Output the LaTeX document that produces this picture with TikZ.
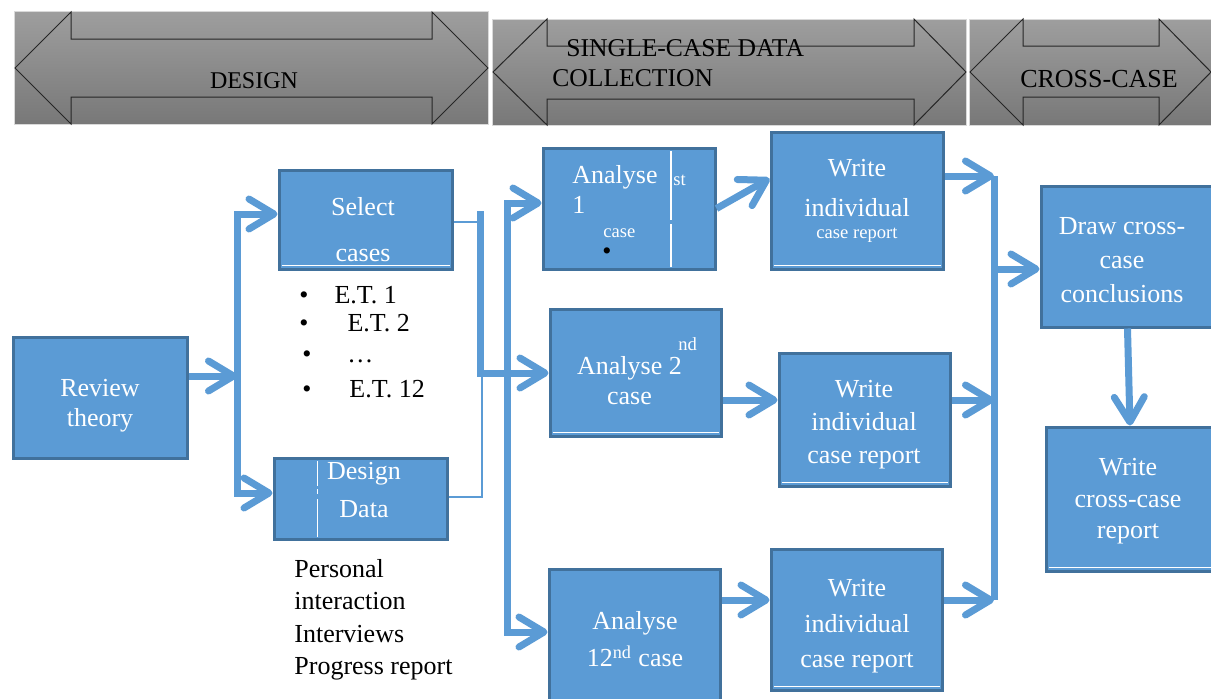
\documentclass[tikz,border=0pt]{standalone}
\usepackage{fontspec}
\setmainfont{Liberation Serif}
\usetikzlibrary{calc,arrows.meta}
\definecolor{boxfill}{HTML}{5B9BD5}
\definecolor{boxline}{HTML}{41719C}
\definecolor{bantop}{HTML}{9E9E9E}
\definecolor{banbot}{HTML}{787878}

\begin{document}
\begin{tikzpicture}[x=0.5pt,y=-0.5pt,
  box/.style={draw=boxline,fill=boxfill,line width=1.5pt,inner sep=0pt},
  wtxt/.style={text=white,align=center,inner sep=0pt,font=\fontsize{13}{15}\selectfont},
  small/.style={text=white,inner sep=0pt,font=\fontsize{9.3}{11}\selectfont},
  btxt/.style={text=black,inner sep=0pt,font=\fontsize{13}{16.2}\selectfont},
  flow/.style={draw=boxfill,line width=3.5pt,>={Straight Barb[length=12.5pt,width=15pt,round]}},
  thinflow/.style={draw=boxfill,line width=1pt},
  banner/.style={top color=bantop,bottom color=banbot,draw=white!85!black,line width=0.4pt},
  bararrow/.style={draw=black!85,line width=0.5pt},
  whiteline/.style={draw=white,line width=0.6pt}]
\useasboundingbox (0,0) rectangle (1211,698);
\clip (0,0) rectangle (1211,698);

% phase banners
\draw[banner] (14,11) rectangle (488,124);
\draw[bararrow] (15,68) -- (71,12) -- (71,39) -- (432,39) -- (432,12) -- (488,68) -- (432,124) -- (432,97) -- (71,97) -- (71,124) -- cycle;
\draw[banner] (492,19) rectangle (966,125);
\draw[bararrow] (493,72) -- (547,19) -- (547,46) -- (914,46) -- (914,19) -- (966,72) -- (914,125) -- (914,99) -- (547,99) -- (547,125) -- cycle;
\draw[banner] (969,19) rectangle (1215,125);
\draw[bararrow] (970,72) -- (1023,19) -- (1023,46) -- (1159,46) -- (1159,19) -- (1211,72) -- (1159,125) -- (1159,97) -- (1023,97) -- (1023,125) -- cycle;

\node[inner sep=0pt,font=\fontsize{12}{14}\selectfont] (ban1) at (254,80.5) {DESIGN};
\node[inner sep=0pt,align=left,anchor=west,font=\fontsize{12.8}{15}\selectfont] (ban2) at (552,63.5) {\hspace*{7pt}SINGLE-CASE DATA\\COLLECTION};
\node[inner sep=0pt,font=\fontsize{13}{15}\selectfont] (ban3) at (1099,79.5) {CROSS-CASE};

% boxes
\node[box,minimum width=87pt,minimum height=60.5pt] (rev) at (100,397.5) {};
\node[box,minimum width=86.5pt,minimum height=49.5pt] (sel) at (365.5,219.5) {};
\node[box,minimum width=86.5pt,minimum height=40.5pt] (dd) at (360.5,498.5) {};
\node[box,minimum width=86pt,minimum height=60.5pt] (an1) at (629,208.5) {};
\node[box,minimum width=85.5pt,minimum height=63.5pt] (an2) at (635.5,372.5) {};
\node[box,minimum width=85.5pt,minimum height=71pt] (an12) at (634.5,640) {};
\node[box,minimum width=86pt,minimum height=68.5pt] (wr1) at (857,200.5) {};
\node[box,minimum width=85.5pt,minimum height=66.5pt] (wr2) at (864.5,419.5) {};
\node[box,minimum width=85.5pt,minimum height=70.5pt] (wr3) at (856.5,619.5) {};
\node[box,minimum width=86.5pt,minimum height=70.5pt] (dcc) at (1127.5,256.5) {};
\node[box,minimum width=84pt,minimum height=72pt] (wcc) at (1130,499) {};

\draw[whiteline] (671,151) -- (671,220) (671,224) -- (671,267);
\draw[whiteline] (317.5,461) -- (317.5,486) (317.5,489) -- (317.5,494) (317.5,499) -- (317.5,537);
\draw[whiteline] ([shift={(2pt,2.4pt)}]sel.south west) -- ([shift={(-2pt,2.4pt)}]sel.south east);
\draw[whiteline] ([shift={(2pt,2.4pt)}]wr1.south west) -- ([shift={(-2pt,2.4pt)}]wr1.south east);
\draw[whiteline] ([shift={(2pt,2.4pt)}]an2.south west) -- ([shift={(-2pt,2.4pt)}]an2.south east);
\draw[whiteline] ([shift={(2pt,2.4pt)}]wr2.south west) -- ([shift={(-2pt,2.4pt)}]wr2.south east);
\draw[whiteline] ([shift={(2pt,2.4pt)}]wr3.south west) -- ([shift={(-2pt,2.4pt)}]wr3.south east);
\draw[whiteline] ([shift={(2pt,2.4pt)}]wcc.south west) -- ([shift={(-2pt,2.4pt)}]wcc.south east);

% box texts
\node[wtxt] (t-rev) at (100,406) {Review\\theory};
\node[wtxt] (t-sel) at (363,230) {Select\\[8pt]cases};
\node[wtxt] (t-dd) at (364,490) {Design\\[4pt]Data};
\node[wtxt,align=left,anchor=west] (t-an1) at (572,189) {Analyse\\1};
\node[small,anchor=base west] (t-st) at (673,185) {st};
\node[small,anchor=base west] (t-c1) at (603,237) {case};
\node[btxt] (t-b1) at (607,254) {\textbullet};
\node[wtxt] (t-an2) at (629.5,381) {Analyse 2\\case};
\node[small,anchor=base west] (t-nd) at (678,350) {nd};
\node[wtxt] (t-an12) at (635,639.5) {Analyse\\[3.5pt]12\textsuperscript{nd} case};
\node[wtxt] (t-wr1) at (857,201) {Write\\[5pt]individual\\[-4pt]{\fontsize{9.3}{11}\selectfont case report}};
\node[wtxt] (t-wr2) at (864,424.5) {Write\\[1.5pt]individual\\[1.5pt]case report};
\node[wtxt] (t-wr3) at (857,626.5) {Write\\[2.75pt]individual\\[2.75pt]case report};
\node[wtxt] (t-dcc) at (1122,260) {Draw cross-\\[2pt]case\\[2pt]conclusions};
\node[wtxt] (t-wcc) at (1128,501.5) {Write\\[0.75pt]cross-case\\[0.75pt]report};

% case lists
\node[btxt,anchor=base west] (et1) at (299,303) {\textbullet\hspace{13pt}E.T. 1};
\node[btxt,anchor=base west] (et2) at (299,331) {\textbullet\hspace{19.5pt}E.T. 2};
\node[btxt,anchor=base west] (et3) at (302,362) {\textbullet\hspace{18pt}\dots};
\node[btxt,anchor=base west] (et12) at (302,397) {\textbullet\hspace{19pt}E.T. 12};
\node[btxt,align=left,anchor=north west] (data) at (294,559) {Personal\\interaction\\Interviews\\Progress report};

% junctions
\coordinate (lb1) at (237,214);
\coordinate (lb2) at (237,376);
\coordinate (lb3) at (237,493);
\coordinate (sb1) at (480,211);
\coordinate (sb2) at (480,222);
\coordinate (sb3) at (480,373);
\coordinate (sb4) at (482,497);
\coordinate (mb1) at (507,203);
\coordinate (mb2) at (507,373);
\coordinate (mb3) at (507,632);
\coordinate (rb1) at (994,176);
\coordinate (rb2) at (994,400);
\coordinate (rb3) at (994,600);
\coordinate (rb4) at (994,269);

% connectors
\draw[flow,->] (rev.east |- lb2) -- (lb2);
\draw[flow,<->] (sel.west |- lb1) -- (lb1) -- (lb3) -- (dd.west |- lb3);
\draw[thinflow] (sel.east |- sb2) -- (sb2);
\draw[flow] (sb1) -- (sb3) -- (mb2);
\draw[thinflow] (dd.east |- sb4) -- (sb4) -- (sb4 |- sb3);
\draw[flow,<->] (an1.west |- mb1) -- (mb1) -- (mb3) -- (an12.west |- mb3);
\draw[flow,->] (mb2) -- (an2.west |- mb2);
\draw[flow,->] (an1.east) -- ($(wr1.west)+(0,-22)$);
\draw[flow,->] (an2.east |- rb2) -- (wr2.west |- rb2);
\draw[flow,->] (an12.east |- rb3) -- (wr3.west |- rb3);
\draw[flow] (rb1) -- (rb3);
\draw[flow,->] (wr1.east |- rb1) -- (rb1);
\draw[flow,->] (wr2.east |- rb2) -- (rb2);
\draw[flow,->] (wr3.east |- rb3) -- (rb3);
\draw[flow,->] (rb4) -- (dcc.west |- rb4);
\draw[flow,->] (dcc.south) -- (wcc.north);

\end{tikzpicture}
\end{document}
